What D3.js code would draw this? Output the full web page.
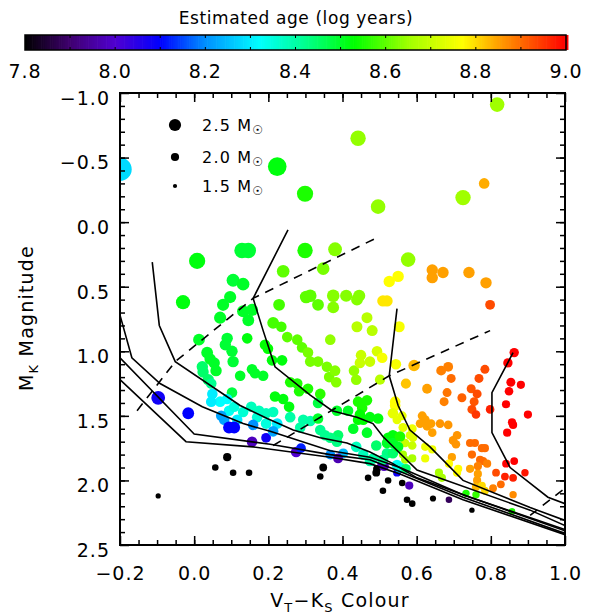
<!DOCTYPE html>
<html>
<head>
<meta charset="utf-8">
<script src="https://cdn.jsdelivr.net/npm/d3@7"></script>
<style>
  body { margin: 0; background: #fff; }
  text { font-family: "DejaVu Sans", sans-serif; fill: #000; }
</style>
</head>
<body>
<svg id="chart" width="591" height="614"></svg>
<script>
// Datos de las estrellas: color V_T-K_S, magnitud M_K, masa (Msol) y edad (log años)
const colourVK = [0.817,0.442,0.224,0.299,-0.200,0.725,0.782,0.496,0.008,0.129,0.146,0.299,0.380,0.348,0.240,0.577,0.642,0.642,0.671,0.741,
  0.787,0.798,0.550,0.526,0.509,0.520,-0.030,0.105,0.132,0.097,0.078,0.132,0.156,0.146,0.070,0.229,0.302,0.313,0.334,0.375,
  0.375,0.410,0.445,0.439,0.439,0.466,0.480,0.553,0.213,0.235,0.251,0.278,0.291,0.307,0.367,0.013,0.035,0.043,0.054,0.059,
  0.089,0.084,0.102,0.105,0.143,0.191,0.199,0.210,0.237,0.156,0.164,0.186,0.124,0.313,0.334,0.358,0.364,0.380,0.383,0.259,
  0.278,0.307,0.283,0.340,0.218,0.240,0.256,0.022,0.024,0.038,0.046,0.102,0.049,0.070,0.046,0.089,0.094,0.108,0.116,0.132,
  0.154,0.175,0.194,0.170,0.194,0.224,0.073,0.081,0.094,0.108,0.159,-0.097,-0.016,0.259,0.294,0.313,0.286,0.334,0.385,0.415,
  0.213,0.156,0.194,0.213,0.275,0.288,0.367,0.402,0.388,0.089,0.057,0.105,0.148,-0.097,0.348,0.340,0.493,0.491,0.469,0.523,
  0.509,0.561,0.574,0.588,0.644,0.749,0.507,0.512,0.580,0.687,0.547,0.431,0.437,0.450,0.447,0.474,0.493,0.507,0.544,0.593,
  0.571,0.501,0.542,0.542,0.628,0.666,0.685,0.693,0.682,0.674,0.722,0.784,0.768,0.747,0.763,0.755,0.749,0.760,0.798,0.863,
  0.846,0.854,0.881,0.849,0.841,0.857,0.860,0.900,0.844,0.536,0.561,0.547,0.563,0.588,0.582,0.590,0.569,0.588,0.563,0.569,
  0.588,0.615,0.623,0.628,0.609,0.639,0.642,0.663,0.685,0.698,0.706,0.709,0.695,0.623,0.623,0.642,0.660,0.668,0.687,0.712,
  0.709,0.744,0.757,0.749,0.776,0.784,0.771,0.779,0.790,0.765,0.744,0.765,0.763,0.760,0.784,0.776,0.863,0.841,0.892,0.838,
  0.860,0.814,0.827,0.806,0.860,0.733,0.760,0.857,0.442,0.466,0.453,0.447,0.442,0.456,0.474,0.496,0.466,0.429,0.388,0.385,
  0.367,0.353,0.340,0.437,0.456,0.482,0.474,0.520,0.509,0.536,0.547,0.555,0.571,0.536,0.523,0.520,0.536,0.555,0.550,0.491,
  0.334];
const magK = [-0.91,-0.65,-0.43,-0.22,-0.41,-0.19,-0.30,-0.12,0.30,0.22,0.22,0.22,0.21,0.36,0.38,0.29,0.37,0.43,0.39,0.39,
  0.47,0.64,0.42,0.46,0.61,0.61,0.62,0.45,0.48,0.58,0.64,0.69,0.68,0.76,0.74,0.64,0.58,0.57,0.64,0.57,
  0.66,0.57,0.57,0.60,0.81,0.74,0.84,0.81,0.78,0.81,0.89,0.91,0.97,1.01,0.91,0.91,1.01,1.06,1.09,1.15,
  0.90,0.95,1.00,1.08,0.90,0.95,0.98,1.07,1.07,1.14,1.17,1.19,1.19,1.08,1.08,1.12,1.20,1.15,1.24,1.24,
  1.25,1.29,1.31,1.33,1.35,1.37,1.43,1.12,1.16,1.22,1.25,1.32,1.33,1.39,1.39,1.37,1.46,1.43,1.53,1.47,
  1.43,1.46,1.48,1.51,1.56,1.56,1.50,1.53,1.59,1.59,1.57,1.36,1.48,1.51,1.53,1.54,1.59,1.40,1.46,1.46,
  1.47,1.70,1.67,1.62,1.78,1.75,1.80,1.79,1.83,1.82,1.90,1.94,1.94,2.12,1.90,1.97,1.91,1.94,1.98,2.00,
  2.08,2.02,2.15,2.18,2.14,2.23,1.87,1.89,2.04,2.15,1.94,1.15,1.22,1.03,1.09,1.08,1.00,1.05,1.10,1.11,
  1.25,1.22,1.39,1.42,1.29,1.15,1.12,1.21,1.32,1.39,1.36,1.14,1.21,1.29,1.33,1.39,1.45,1.49,1.45,1.01,
  1.09,1.24,1.26,1.31,1.41,1.55,1.57,1.49,1.63,1.48,1.50,1.53,1.59,1.60,1.65,1.67,1.71,1.73,1.80,1.84,
  1.83,1.50,1.53,1.58,1.56,1.56,1.63,1.56,1.57,1.69,1.72,1.65,1.82,1.74,1.83,1.76,1.94,1.98,1.87,1.91,
  1.94,1.71,1.71,1.80,1.75,1.75,1.84,1.85,1.87,1.89,1.91,1.95,2.00,2.05,2.08,2.04,1.85,1.87,1.94,1.97,
  1.98,1.94,2.03,2.06,2.11,2.10,2.11,2.24,1.39,1.38,1.44,1.49,1.53,1.53,1.51,1.52,1.63,1.60,1.65,1.70,
  1.67,1.65,1.61,1.74,1.80,1.83,1.85,1.79,1.84,1.79,1.88,1.90,1.91,1.65,1.67,1.71,1.71,1.66,1.74,1.73,
  1.52];
const massSun = [2.8,2.9,3.3,3.0,3.9,2.9,2.3,2.8,3.0,2.9,2.9,2.9,2.7,2.55,2.55,2.8,2.4,2.4,2.4,2.4,
  2.4,2.2,2.4,2.4,2.4,2.4,2.75,2.6,2.55,2.5,2.5,2.5,2.5,2.45,2.5,2.45,2.55,2.55,2.45,2.55,
  2.45,2.5,2.5,2.45,2.35,2.35,2.35,2.35,2.45,2.3,2.3,2.3,2.3,2.3,2.3,2.45,2.45,2.4,2.4,2.4,
  2.4,2.4,2.4,2.4,2.3,2.3,2.3,2.3,2.3,2.3,2.3,2.3,2.3,2.3,2.3,2.3,2.3,2.3,2.3,2.3,
  2.3,2.3,2.3,2.3,2.3,2.3,2.3,2.4,2.4,2.4,2.3,2.3,2.3,2.3,2.3,2.3,2.3,2.3,2.3,2.3,
  2.3,2.3,2.3,2.3,2.3,2.3,2.3,2.3,2.45,2.45,2.3,2.7,2.45,2.3,2.3,2.3,2.3,2.3,2.3,2.3,
  2.3,2.3,2.2,2.3,2.3,2.2,2.2,2.2,2.2,2.0,1.8,1.8,1.8,1.63,1.95,1.8,1.95,1.95,1.8,1.8,
  1.8,1.8,1.8,1.8,1.75,1.65,2.2,2.2,2.0,1.8,1.95,2.3,2.3,2.3,2.3,2.3,2.3,2.3,2.3,2.4,
  2.25,2.25,2.3,2.3,2.2,2.2,2.2,2.1,2.1,2.1,2.1,2.1,2.1,2.1,2.1,2.1,2.1,2.05,2.05,2.15,
  2.15,2.1,2.0,2.05,2.0,2.0,2.0,2.0,2.0,2.3,2.1,2.1,2.1,2.1,2.05,2.05,2.05,2.05,2.0,2.0,
  2.0,2.1,2.1,2.1,2.05,2.05,2.05,2.05,2.05,2.05,2.05,2.05,2.0,2.0,2.0,2.0,2.0,2.0,2.0,2.0,
  2.0,2.0,2.0,2.0,2.0,2.0,2.0,2.0,2.0,2.0,2.0,2.0,2.0,2.0,1.95,1.95,1.95,1.95,1.9,1.95,
  1.95,1.95,1.95,1.95,1.9,1.9,1.9,1.8,2.3,2.3,2.3,2.3,2.3,2.3,2.3,2.3,2.3,2.3,2.3,2.3,
  2.3,2.3,2.3,2.3,2.3,2.3,2.3,2.3,2.3,2.3,2.3,2.3,2.2,2.3,2.3,2.3,2.3,2.3,2.3,2.3,
  2.3];
const logAge = [8.65,8.64,8.52,8.55,8.28,8.65,8.84,8.64,8.52,8.49,8.49,8.55,8.63,8.62,8.6,8.64,8.85,8.85,8.85,8.85,
  8.85,8.93,8.77,8.77,8.79,8.79,8.52,8.49,8.5,8.5,8.5,8.5,8.5,8.5,8.5,8.58,8.6,8.6,8.6,8.63,
  8.63,8.63,8.63,8.63,8.68,8.68,8.68,8.76,8.58,8.58,8.6,8.6,8.6,8.62,8.64,8.5,8.5,8.5,8.5,8.5,
  8.49,8.49,8.49,8.49,8.52,8.53,8.53,8.52,8.52,8.5,8.5,8.5,8.5,8.62,8.62,8.62,8.62,8.63,8.63,8.55,
  8.55,8.55,8.55,8.56,8.52,8.52,8.52,8.45,8.45,8.45,8.42,8.48,8.3,8.32,8.3,8.32,8.33,8.35,8.3,8.36,
  8.38,8.38,8.38,8.36,8.35,8.3,8.22,8.22,8.1,8.1,8.2,8.08,8.1,8.4,8.4,8.4,8.4,8.48,8.5,8.5,
  8.38,7.98,8.08,8.22,8.0,8.12,8.2,8.25,7.97,7.8,7.8,7.8,7.8,7.8,7.8,7.8,7.8,7.8,7.8,7.8,
  7.8,7.8,7.8,7.8,7.8,7.8,7.98,7.98,7.98,7.88,8.08,8.64,8.64,8.7,8.7,8.7,8.72,8.76,8.76,8.83,
  8.82,8.68,8.77,8.77,8.85,8.88,8.88,8.9,8.89,8.88,8.91,8.93,8.93,8.92,8.93,8.92,8.93,8.95,8.97,9.0,
  9.0,9.0,9.0,9.0,9.0,9.0,9.0,9.0,9.0,8.74,8.74,8.74,8.74,8.75,8.73,8.73,8.7,8.7,8.66,8.66,
  8.66,8.85,8.85,8.85,8.85,8.85,8.85,8.86,8.86,8.86,8.86,8.86,8.85,8.75,8.75,8.75,8.66,8.66,8.77,8.77,
  8.77,8.9,8.9,8.9,8.9,8.9,8.9,8.9,8.88,8.88,8.85,8.85,8.85,8.83,8.8,8.8,9.0,9.0,8.98,8.97,
  8.97,8.93,8.9,8.88,8.87,8.55,8.57,8.55,8.55,8.55,8.55,8.53,8.53,8.53,8.52,8.52,8.5,8.5,8.45,8.43,
  8.43,8.42,8.42,8.38,8.38,8.4,8.4,8.43,8.42,8.45,8.33,8.35,8.45,8.52,8.52,8.5,8.5,8.55,8.5,8.45,
  8.5];

// Isocronas (líneas sólidas) y líneas discontinuas, en [color, magnitud]
const isoA = [[-0.200,0.72],[-0.168,1.05],[-0.092,1.25],[0.022,1.43],[0.132,1.56],[0.205,1.62],[0.367,1.77],[0.474,1.82],[0.555,1.90],[0.725,2.11],[1.000,2.39]];
const isoB = [[-0.200,1.05],[0.000,1.64],[0.205,1.72],[0.367,1.80],[0.474,1.84],[0.555,1.93],[0.725,2.13],[1.000,2.41]];
const isoC = [[-0.200,1.22],[-0.022,1.70],[0.159,1.74],[0.367,1.82],[0.474,1.87],[0.555,1.95],[0.725,2.15],[1.000,2.42]];
const iso2 = [[-0.113,0.31],[-0.094,0.80],[-0.051,1.08],[0.124,1.42],[0.197,1.52],[0.267,1.61],[0.340,1.67],[0.412,1.71],[0.474,1.78],[0.536,1.87],[0.601,1.98],[0.744,2.13],[1.000,2.38]];
const iso3 = [[0.253,0.06],[0.159,0.59],[0.186,0.84],[0.218,1.12],[0.313,1.34],[0.372,1.46],[0.439,1.51],[0.482,1.56],[0.509,1.66],[0.601,1.92],[0.906,2.23],[1.000,2.35]];
const iso4 = [[0.547,0.67],[0.526,1.19],[0.550,1.42],[0.582,1.61],[0.636,1.74],[0.725,2.00],[0.906,2.21],[1.000,2.31]];
const iso5 = [[0.860,1.01],[0.803,1.32],[0.803,1.63],[0.852,1.90],[0.954,2.13],[1.000,2.18]];
const dash1 = [[-0.154,1.46],[-0.051,1.08],[0.159,0.59],[0.493,0.12]];
const dash2 = [[0.213,1.73],[0.526,1.19],[0.798,0.84]];
const dash3 = [[0.906,2.27],[1.000,2.06]];

// Escala de colores (edad)
const stopAges = [7.8, 7.9, 8.0, 8.1, 8.2, 8.32, 8.42, 8.53, 8.65, 8.77, 8.85, 9.0];
const stopColours = ['#000000','#400070','#5000d0','#0000ff','#0090ff','#00ffff','#00ff90','#00ff00','#a0ff00','#ffff00','#ffa000','#ff0000'];

// Ticks y leyenda
const xTicks = [-0.2, 0.0, 0.2, 0.4, 0.6, 0.8, 1.0];
const yTicks = [-1.0, -0.5, 0.0, 0.5, 1.0, 1.5, 2.0, 2.5];
const ageTicks = [7.8, 8.0, 8.2, 8.4, 8.6, 8.8, 9.0];
const legendMasses = [2.5, 2.0, 1.5];

const svg = d3.select('#chart');
const fontFam = '"DejaVu Sans", sans-serif';

const x = d3.scaleLinear().domain([-0.2, 1.0]).range([120, 565]);
const y = d3.scaleLinear().domain([-1.0, 2.5]).range([93, 545]);
const radius = d3.scaleLinear().domain([1.5, 2.5]).range([2.1, 6.1]);
const colour = d3.scaleLinear().domain(stopAges).range(stopColours).clamp(true);

// Barra de color
const cbx = d3.scaleLinear().domain([7.8, 9.0]).range([25, 566]);
const cbTop = 35, cbBot = 50;
svg.append('g').selectAll('rect')
  .data(d3.range(7.8, 9.0, 0.004))
  .join('rect')
  .attr('x', d => cbx(d))
  .attr('y', cbTop)
  .attr('width', cbx(7.805) - cbx(7.8) + 0.2)
  .attr('height', cbBot - cbTop)
  .attr('fill', d => colour(d + 0.002));
svg.append('rect')
  .attr('x', cbx(7.8)).attr('y', cbTop)
  .attr('width', cbx(9.0) - cbx(7.8)).attr('height', cbBot - cbTop)
  .attr('fill', 'none').attr('stroke', '#000').attr('stroke-width', 1.5);
svg.append('g').selectAll('path')
  .data(d3.range(7.9, 8.95, 0.1))
  .join('path')
  .attr('d', d => `M${cbx(d)},${cbTop}v3M${cbx(d)},${cbBot}v-3`)
  .attr('stroke', '#000').attr('stroke-width', 1);
svg.append('g').selectAll('text')
  .data(ageTicks)
  .join('text')
  .attr('x', d => cbx(d))
  .attr('y', 78)
  .attr('text-anchor', 'middle')
  .style('font-size', '19px')
  .style('letter-spacing', '1px')
  .text(d => d.toFixed(1));
svg.append('text')
  .attr('x', 296).attr('y', 24)
  .attr('text-anchor', 'middle')
  .style('font-size', '17px')
  .style('letter-spacing', '0.6px')
  .text('Estimated age (log years)');

// Zona de dibujo
svg.append('clipPath').attr('id', 'clip')
  .append('rect').attr('x', 120).attr('y', 93).attr('width', 445).attr('height', 452);

// Puntos
svg.append('g').attr('clip-path', 'url(#clip)')
  .selectAll('circle')
  .data(d3.range(colourVK.length))
  .join('circle')
  .attr('cx', i => x(colourVK[i]))
  .attr('cy', i => y(magK[i]))
  .attr('r', i => radius(massSun[i]))
  .attr('fill', i => colour(logAge[i]));

// Líneas
const line = d3.line().x(d => x(d[0])).y(d => y(d[1]));
const lines = svg.append('g').attr('clip-path', 'url(#clip)').attr('fill', 'none').attr('stroke', '#000');
lines.selectAll('path.iso')
  .data([isoA, isoB, isoC, iso2, iso3, iso4, iso5])
  .join('path')
  .attr('class', 'iso')
  .attr('d', line)
  .attr('stroke-width', 1.6);
lines.selectAll('path.dash')
  .data([dash1, dash2, dash3])
  .join('path')
  .attr('class', 'dash')
  .attr('d', line)
  .attr('stroke-width', 1.6)
  .attr('stroke-dasharray', '9,7');

// Ejes
function estiloEje(g) {
  g.select('.domain').remove();
  g.selectAll('line').attr('stroke-width', 1.5);
  g.selectAll('text').style('font-family', fontFam).style('font-size', '19px').style('letter-spacing', '1px');
}
const fmt = d3.format('.1f');
svg.append('g').attr('transform', 'translate(0,545)')
  .call(d3.axisBottom(x).tickValues(xTicks).tickSize(-9).tickPadding(21.5).tickFormat(fmt)).call(estiloEje);
svg.append('g').attr('transform', 'translate(0,545)')
  .call(d3.axisBottom(x).tickValues(d3.range(-0.15, 1.0, 0.05)).tickSize(-5).tickFormat('')).call(estiloEje);
svg.append('g').attr('transform', 'translate(0,93)')
  .call(d3.axisTop(x).tickValues(xTicks).tickSize(-9).tickFormat('')).call(estiloEje);
svg.append('g').attr('transform', 'translate(0,93)')
  .call(d3.axisTop(x).tickValues(d3.range(-0.15, 1.0, 0.05)).tickSize(-5).tickFormat('')).call(estiloEje);
svg.append('g').attr('transform', 'translate(120,0)')
  .call(d3.axisLeft(y).tickValues(yTicks).tickSize(-9).tickPadding(10).tickFormat(fmt)).call(estiloEje)
  .selectAll('text').attr('dy', '0.6em');
svg.append('g').attr('transform', 'translate(120,0)')
  .call(d3.axisLeft(y).tickValues(d3.range(-0.9, 2.45, 0.1)).tickSize(-5).tickFormat('')).call(estiloEje);
svg.append('g').attr('transform', 'translate(565,0)')
  .call(d3.axisRight(y).tickValues(yTicks).tickSize(-9).tickFormat('')).call(estiloEje);
svg.append('g').attr('transform', 'translate(565,0)')
  .call(d3.axisRight(y).tickValues(d3.range(-0.9, 2.45, 0.1)).tickSize(-5).tickFormat('')).call(estiloEje);

svg.append('rect')
  .attr('x', 120).attr('y', 93).attr('width', 445).attr('height', 452)
  .attr('fill', 'none').attr('stroke', '#000').attr('stroke-width', 2);

// Títulos de los ejes
const xt = svg.append('text').attr('x', 340).attr('y', 607).attr('text-anchor', 'middle')
  .style('font-size', '19px').style('letter-spacing', '1.2px');
xt.append('tspan').text('V');
xt.append('tspan').attr('dy', 5).style('font-size', '13px').text('T');
xt.append('tspan').attr('dy', -5).text('\u2212K');
xt.append('tspan').attr('dy', 5).style('font-size', '13px').text('S');
xt.append('tspan').attr('dy', -5).text(' Colour');

const yt = svg.append('text').attr('transform', 'translate(33,318) rotate(-90)').attr('text-anchor', 'middle')
  .style('font-size', '19px').style('letter-spacing', '1.2px');
yt.append('tspan').text('M');
yt.append('tspan').attr('dy', 5).style('font-size', '13px').text('K');
yt.append('tspan').attr('dy', -5).text(' Magnitude');

// Leyenda de masas
const legendY = [125, 157, 186];
const leg = svg.append('g');
leg.selectAll('circle')
  .data(legendMasses)
  .join('circle')
  .attr('cx', 175)
  .attr('cy', (d, i) => legendY[i])
  .attr('r', d => radius(d))
  .attr('fill', '#000');
leg.selectAll('text')
  .data(legendMasses)
  .join('text')
  .attr('x', 202)
  .attr('y', (d, i) => legendY[i] + 6)
  .style('font-size', '16px')
  .style('letter-spacing', '1.2px')
  .each(function (d) {
    const t = d3.select(this);
    t.append('tspan').text(d.toFixed(1) + ' M');
    t.append('tspan').attr('dy', 3).style('font-size', '12px').text('\u2609');
  });
</script>
</body>
</html>
